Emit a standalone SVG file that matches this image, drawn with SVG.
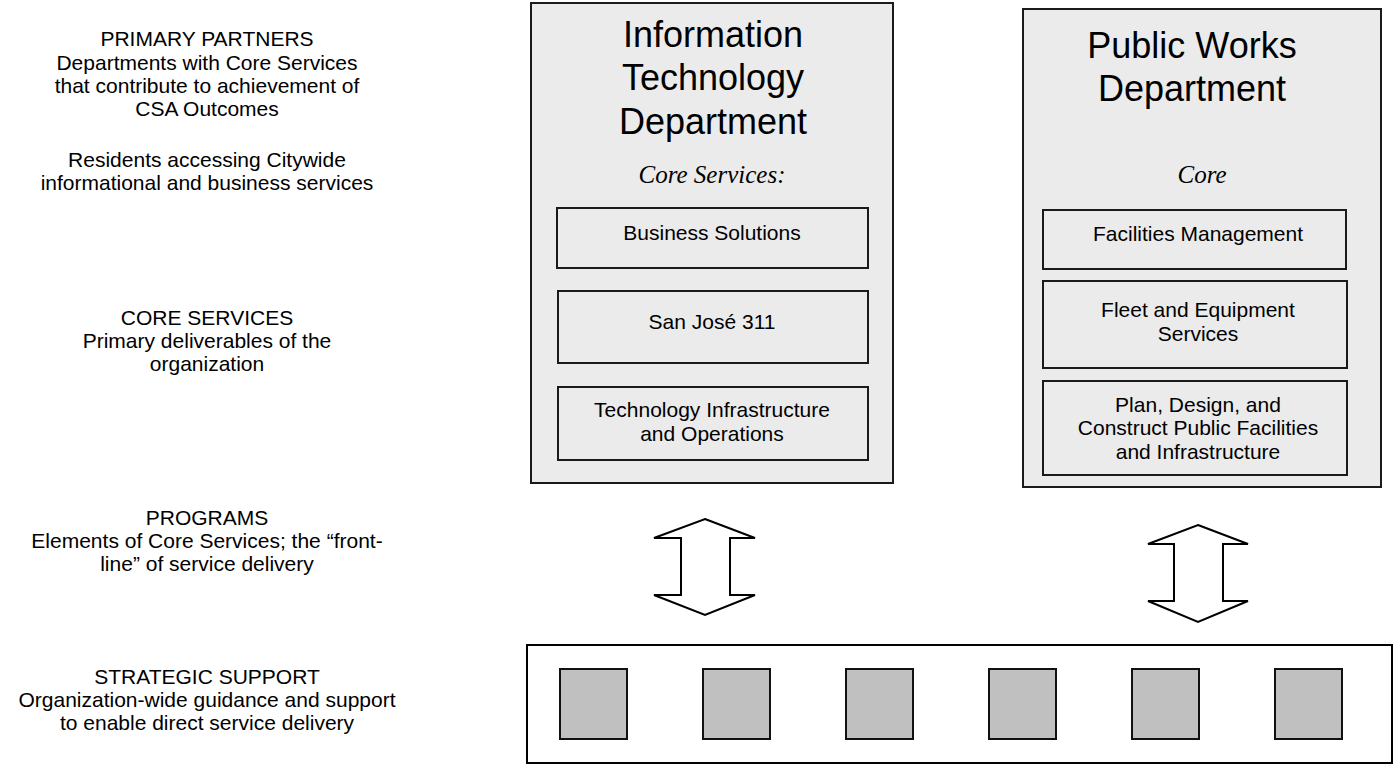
<svg xmlns="http://www.w3.org/2000/svg" width="1395" height="765" viewBox="0 0 1395 765">
<style>
.lbl{font-family:"Liberation Sans",Arial,sans-serif;font-size:21px;fill:#000;text-anchor:middle}
.ttl{font-family:"Liberation Sans",Arial,sans-serif;font-size:36px;fill:#000;text-anchor:middle}
.ital{font-family:"Liberation Serif","Times New Roman",serif;font-style:italic;font-size:25px;fill:#000;text-anchor:middle}
.dept{fill:#ebebeb;stroke:#1a1a1a;stroke-width:2}
.svc{fill:#ebebeb;stroke:#1a1a1a;stroke-width:2}
.sq{fill:#c0c0c0;stroke:#111;stroke-width:2}
.arr{fill:#fff;stroke:#000;stroke-width:2;stroke-linejoin:miter}
</style>
<rect width="1395" height="765" fill="#fff"/>
<g id="legend">
<text class="lbl" x="207" y="46">PRIMARY PARTNERS</text>
<text class="lbl" x="207" y="70">Departments with Core Services</text>
<text class="lbl" x="207" y="93">that contribute to achievement of</text>
<text class="lbl" x="207" y="116">CSA Outcomes</text>
<text class="lbl" x="207" y="167">Residents accessing Citywide</text>
<text class="lbl" x="207" y="190">informational and business services</text>
<text class="lbl" x="207" y="325">CORE SERVICES</text>
<text class="lbl" x="207" y="348">Primary deliverables of the</text>
<text class="lbl" x="207" y="371">organization</text>
<text class="lbl" x="207" y="525">PROGRAMS</text>
<text class="lbl" x="207" y="548">Elements of Core Services; the “front-</text>
<text class="lbl" x="207" y="571">line” of service delivery</text>
<text class="lbl" x="207" y="684">STRATEGIC SUPPORT</text>
<text class="lbl" x="207" y="707">Organization-wide guidance and support</text>
<text class="lbl" x="207" y="730">to enable direct service delivery</text>
</g>
<g id="it-dept">
<rect class="dept" x="531" y="3" width="362" height="480"/>
<text class="ttl" x="713" y="47">Information</text>
<text class="ttl" x="713" y="90">Technology</text>
<text class="ttl" x="713" y="134">Department</text>
<text class="ital" x="712" y="183">Core Services:</text>
</g>
<g id="it-business-solutions">
<rect class="svc" x="557" y="208" width="311" height="60"/>
<text class="lbl" x="712" y="240">Business Solutions</text>
</g>
<g id="it-311">
<rect class="svc" x="558" y="291" width="310" height="72"/>
<text class="lbl" x="712" y="329">San José 311</text>
</g>
<g id="it-infrastructure">
<rect class="svc" x="558" y="387" width="310" height="73"/>
<text class="lbl" x="712" y="417">Technology Infrastructure</text>
<text class="lbl" x="712" y="441">and Operations</text>
</g>
<g id="pw-dept">
<rect class="dept" x="1023" y="9" width="358" height="478"/>
<text class="ttl" x="1192" y="58">Public Works</text>
<text class="ttl" x="1192" y="101">Department</text>
<text class="ital" x="1202" y="183">Core</text>
</g>
<g id="pw-facilities">
<rect class="svc" x="1043" y="210" width="303" height="59"/>
<text class="lbl" x="1198" y="241">Facilities Management</text>
</g>
<g id="pw-fleet">
<rect class="svc" x="1043" y="281" width="304" height="87"/>
<text class="lbl" x="1198" y="317">Fleet and Equipment</text>
<text class="lbl" x="1198" y="341">Services</text>
</g>
<g id="pw-plan">
<rect class="svc" x="1043" y="381" width="304" height="94"/>
<text class="lbl" x="1198" y="412">Plan, Design, and</text>
<text class="lbl" x="1198" y="435">Construct Public Facilities</text>
<text class="lbl" x="1198" y="459">and Infrastructure</text>
</g>
<g id="strategic-support">
<rect x="527" y="645" width="865" height="118" fill="#fff" stroke="#000" stroke-width="2"/>
<rect class="sq" x="560" y="669" width="67" height="70"/>
<rect class="sq" x="703" y="669" width="67" height="70"/>
<rect class="sq" x="846" y="669" width="67" height="70"/>
<rect class="sq" x="989" y="669" width="67" height="70"/>
<rect class="sq" x="1132" y="669" width="67" height="70"/>
<rect class="sq" x="1275" y="669" width="67" height="70"/>
</g>
<g id="connectors">
<path class="arr" d="M705,519 L755,538 L730,538 L730,595 L755,595 L705,615 L654,595 L681,595 L681,538 L654,538 Z"/>
<path class="arr" d="M1198,525 L1248,544 L1223,544 L1223,601 L1248,601 L1198,622 L1148,601 L1174,601 L1174,544 L1148,544 Z"/>
</g>
</svg>
